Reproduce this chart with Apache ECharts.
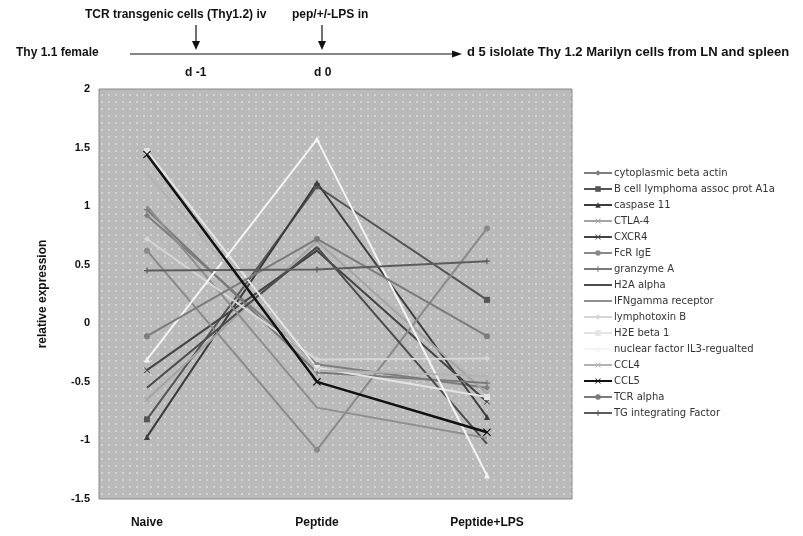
<!DOCTYPE html>
<html>
<head>
<meta charset="utf-8">
<script src="https://cdn.jsdelivr.net/npm/echarts@6/dist/echarts.min.js"></script>
<style>
  html, body { margin: 0; padding: 0; background: #fff; }
  #chart { width: 803px; height: 536px; }
</style>
</head>
<body>
<div id="chart"></div>
<script>
// conditions on the x axis
var conditions = ['Naive', 'Peptide', 'Peptide+LPS'];
var conditionPos = [0, 1, 2];

// genes (legend order)
var genes = [
  'cytoplasmic beta actin', 'B cell lymphoma assoc prot A1a', 'caspase 11', 'CTLA-4',
  'CXCR4', 'FcR IgE', 'granzyme A', 'H2A alpha', 'IFNgamma receptor', 'lymphotoxin B',
  'H2E beta 1', 'nuclear factor IL3-regualted', 'CCL4', 'CCL5', 'TCR alpha', 'TG integrating Factor'
];

// relative expression per gene: Naive, Peptide, Peptide+LPS
var betaActin   = [0.92, -0.35, -0.55];
var bcellA1a    = [-0.82, 1.17, 0.20];
var caspase11   = [-0.97, 1.20, -0.80];
var ctla4       = [-0.65, 0.70, -0.60];
var cxcr4       = [-0.40, 0.62, -0.67];
var fcrIge      = [0.62, -1.08, 0.81];
var granzymeA   = [0.97, -0.42, -0.51];
var h2aAlpha    = [-0.55, 0.65, -1.03];
var ifngR       = [1.00, -0.72, -0.98];
var lymphotoxB  = [0.72, -0.31, -0.30];
var h2eBeta1    = [1.47, -0.38, -0.63];
var nfil3       = [-0.31, 1.57, -1.30];
var ccl4        = [1.28, -0.40, -0.45];
var ccl5        = [1.44, -0.50, -0.93];
var tcrAlpha    = [-0.11, 0.72, -0.11];
var tgFactor    = [0.45, 0.46, 0.53];

var geneValues = [betaActin, bcellA1a, caspase11, ctla4, cxcr4, fcrIge, granzymeA, h2aAlpha,
  ifngR, lymphotoxB, h2eBeta1, nfil3, ccl4, ccl5, tcrAlpha, tgFactor];

var yTicks = [-1.5, -1, -0.5, 0, 0.5, 1, 1.5, 2];

// marker shapes
var crossPath = 'path://M0,1L1,0L5,4L9,0L10,1L6,5L10,9L9,10L5,6L1,10L0,9L4,5Z';
var plusPath = 'path://M4,0H6V4H10V6H6V10H4V6H0V4H4Z';
var styles = [
  { c: '#7e7e7e', s: 'diamond' },
  { c: '#555555', s: 'rect' },
  { c: '#3c3c3c', s: 'triangle' },
  { c: '#a4a4a4', s: crossPath },
  { c: '#444444', s: crossPath },
  { c: '#8a8a8a', s: 'circle' },
  { c: '#7a7a7a', s: plusPath },
  { c: '#4c4c4c', s: 'none' },
  { c: '#8f8f8f', s: 'none' },
  { c: '#d6d6d6', s: 'diamond' },
  { c: '#e4e4e4', s: 'rect' },
  { c: '#f4f4f4', s: 'triangle' },
  { c: '#b2b2b2', s: crossPath },
  { c: '#111111', s: crossPath },
  { c: '#7c7c7c', s: 'circle' },
  { c: '#5c5c5c', s: plusPath }
];

// dotted grey plot background
var pat = document.createElement('canvas');
pat.width = 7; pat.height = 7;
var pctx = pat.getContext('2d');
pctx.fillStyle = '#bababa';
pctx.fillRect(0, 0, 7, 7);
pctx.fillStyle = '#d2d2d2';
pctx.fillRect(3, 3, 2, 2);

var series = [];
var legendData = [];
for (var i = 0; i < genes.length; i++) {
  var pts = [];
  for (var j = 0; j < conditionPos.length; j++) {
    pts.push([conditionPos[j], geneValues[i][j]]);
  }
  series.push({
    name: genes[i],
    type: 'line',
    data: pts,
    symbol: styles[i].s,
    symbolSize: i === 13 ? 8 : 6,
    showSymbol: styles[i].s !== 'none',
    lineStyle: { color: styles[i].c, width: i === 13 ? 2.5 : 2 },
    itemStyle: { color: styles[i].c },
    emphasis: { disabled: true },
    z: i === 13 ? 5 : 2
  });
  if (styles[i].s === 'none') {
    legendData.push({ name: genes[i], itemStyle: { opacity: 0 } });
  } else {
    legendData.push({ name: genes[i] });
  }
}

var chart = echarts.init(document.getElementById('chart'));
var boldFont = 'Liberation Sans';
var topFont = 'bold 12px Liberation Sans';
chart.setOption({
  animation: false,
  backgroundColor: '#ffffff',
  grid: {
    left: 99, top: 89, width: 473, height: 410,
    show: true,
    backgroundColor: { image: pat, repeat: 'repeat' },
    borderColor: '#8a8a8a',
    borderWidth: 1
  },
  legend: {
    orient: 'vertical',
    left: 578, top: 163,
    itemWidth: 28, itemHeight: 7, itemGap: 6,
    textStyle: { fontFamily: 'DejaVu Sans', fontSize: 10, color: '#333', padding: [0, 0, 0, -3] },
    data: legendData
  },
  xAxis: {
    type: 'value',
    min: -0.282, max: 2.5,
    axisLine: { show: false },
    axisTick: { show: false },
    splitLine: { show: false },
    axisLabel: {
      customValues: conditionPos,
      formatter: function (v) { return conditions[Math.round(v)]; },
      margin: 18,
      fontFamily: boldFont, fontWeight: 'bold', fontSize: 12, color: '#111'
    }
  },
  yAxis: {
    type: 'value',
    min: -1.5, max: 2, interval: 0.5,
    name: 'relative expression',
    nameLocation: 'middle',
    nameGap: 50,
    nameTextStyle: { fontFamily: boldFont, fontWeight: 'bold', fontSize: 12, color: '#111' },
    axisLine: { show: false },
    axisTick: { show: false },
    splitLine: { show: false },
    axisLabel: {
      customValues: yTicks,
      margin: 9,
      fontFamily: boldFont, fontWeight: 'bold', fontSize: 11, color: '#111'
    }
  },
  graphic: [
    { type: 'text', left: 85, top: 9, style: { text: 'TCR transgenic cells (Thy1.2) iv', font: topFont, fill: '#111' } },
    { type: 'text', left: 292, top: 9, style: { text: 'pep/+/-LPS in', font: topFont, fill: '#111' } },
    { type: 'line', shape: { x1: 196, y1: 25, x2: 196, y2: 46 }, style: { stroke: '#111', lineWidth: 1.2 } },
    { type: 'polygon', shape: { points: [[192, 41], [200, 41], [196, 50]] }, style: { fill: '#111' } },
    { type: 'line', shape: { x1: 322, y1: 25, x2: 322, y2: 46 }, style: { stroke: '#111', lineWidth: 1.2 } },
    { type: 'polygon', shape: { points: [[318, 41], [326, 41], [322, 50]] }, style: { fill: '#111' } },
    { type: 'text', left: 16, top: 47, style: { text: 'Thy 1.1 female', font: topFont, fill: '#111' } },
    { type: 'line', shape: { x1: 130, y1: 54, x2: 455, y2: 54 }, style: { stroke: '#111', lineWidth: 1.2 } },
    { type: 'polygon', shape: { points: [[452, 50.5], [452, 57.5], [462, 54]] }, style: { fill: '#111' } },
    { type: 'text', left: 467, top: 46, style: { text: 'd 5 islolate Thy 1.2 Marilyn cells from LN and spleen', font: 'bold 13px Liberation Sans', fill: '#111' } },
    { type: 'text', left: 185, top: 67, style: { text: 'd -1', font: topFont, fill: '#111' } },
    { type: 'text', left: 314, top: 67, style: { text: 'd 0', font: topFont, fill: '#111' } }
  ],
  series: series
});
</script>
</body>
</html>
